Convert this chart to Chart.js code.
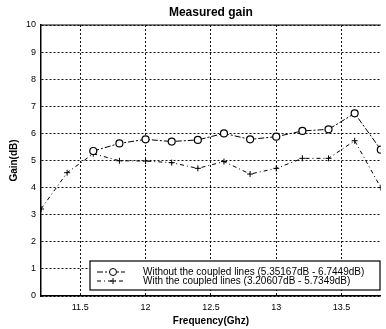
<!DOCTYPE html>
<html>
<head>
<meta charset="utf-8">
<script src="https://cdn.jsdelivr.net/npm/chart.js@4/dist/chart.umd.min.js"></script>
<style>
html, body { margin: 0; padding: 0; background: #fff; }
#wrap { width: 386px; height: 329px; }
</style>
</head>
<body>
<div id="wrap"><canvas id="gain"></canvas></div>
<script>
const FREQS = [11.2, 11.4, 11.6, 11.8, 12.0, 12.2, 12.4, 12.6, 12.8, 13.0, 13.2, 13.4, 13.6, 13.8];
const WITHOUT_GAIN = [null, null, 5.35, 5.63, 5.78, 5.70, 5.76, 6.00, 5.78, 5.88, 6.09, 6.15, 6.74, 5.40];
const WITH_GAIN = [3.21, 4.55, 5.25, 4.99, 4.98, 4.92, 4.71, 4.96, 4.50, 4.71, 5.08, 5.08, 5.73, 4.00];
const X_TICKS = [11.5, 12, 12.5, 13, 13.5];
const TITLE = "Measured gain";
const X_TITLE = "Frequency(Ghz)";
const Y_TITLE = "Gain(dB)";
const LABELS = [
    "Without the coupled lines (5.35167dB - 6.7449dB)",
    "With the coupled lines (3.20607dB - 5.7349dB)"
];

function toPoints(values) {
    return FREQS.map(function (f, i) {
        return { x: f, y: values[i] };
    });
}

// title over the plot box, plus the top edge of the box
const frame = {
    id: "frame",
    afterDraw(chart) {
        const ctx = chart.ctx;
        const a = chart.chartArea;
        ctx.save();
        ctx.strokeStyle = "#000";
        ctx.lineWidth = 1.2;
        ctx.beginPath();
        ctx.moveTo(a.left, a.top);
        ctx.lineTo(a.right, a.top);
        ctx.stroke();
        ctx.fillStyle = "#000";
        ctx.font = "bold 12px 'Liberation Sans', Arial, sans-serif";
        ctx.textAlign = "center";
        ctx.textBaseline = "middle";
        ctx.fillText(TITLE, (a.left + a.right) / 2, 13);
        ctx.restore();
    }
};

// boxed legend inside the plot, bottom right
const boxLegend = {
    id: "boxLegend",
    afterDraw(chart) {
        const ctx = chart.ctx;
        const a = chart.chartArea;
        const x = a.left + 49, y = a.bottom - 35, w = 290, h = 29;
        ctx.save();
        ctx.fillStyle = "#fff";
        ctx.fillRect(x, y, w, h);
        ctx.strokeStyle = "#000";
        ctx.lineWidth = 1.2;
        ctx.strokeRect(x, y, w, h);
        chart.data.datasets.forEach(function (ds, i) {
            const ry = y + 11 + i * 9;
            ctx.strokeStyle = "#000";
            ctx.lineWidth = 1;
            ctx.setLineDash(ds.borderDash);
            ctx.beginPath();
            ctx.moveTo(x + 7, ry);
            ctx.lineTo(x + 35, ry);
            ctx.stroke();
            ctx.setLineDash([]);
            Chart.helpers.drawPoint(ctx, {
                pointStyle: ds.pointStyle,
                radius: ds.pointRadius,
                borderWidth: ds.pointBorderWidth,
                rotation: 0
            }, x + 23, ry);
            if (ds.pointStyle === "circle") {
                ctx.fillStyle = "#fff";
            }
            ctx.fillStyle = "#000";
            ctx.font = "10px 'Liberation Sans', Arial, sans-serif";
            ctx.textAlign = "left";
            ctx.textBaseline = "middle";
            ctx.fillText(LABELS[i], x + 53, ry);
        });
        ctx.restore();
    }
};

window.onload = function () {
    const ctx = document.getElementById("gain").getContext("2d");
    new Chart(ctx, {
        type: "line",
        data: {
            datasets: [{
                label: LABELS[0],
                data: toPoints(WITHOUT_GAIN),
                borderColor: "#000",
                borderWidth: 1,
                borderDash: [6, 2, 2, 2],
                pointStyle: "circle",
                pointRadius: 3.5,
                pointBorderWidth: 1.2,
                pointBackgroundColor: "#fff",
                pointBorderColor: "#000",
                fill: false,
                tension: 0,
                spanGaps: false
            },
            {
                label: LABELS[1],
                data: toPoints(WITH_GAIN),
                borderColor: "#000",
                borderWidth: 1,
                borderDash: [4, 3, 1, 3],
                pointStyle: "cross",
                pointRadius: 3,
                pointBorderWidth: 1,
                pointBorderColor: "#000",
                fill: false,
                tension: 0
            }]
        },
        options: {
            responsive: true,
            maintainAspectRatio: false,
            animation: false,
            layout: { padding: { top: 25, left: 0, right: 0, bottom: 0 } },
            plugins: {
                legend: { display: false },
                title: { display: false },
                tooltip: { enabled: false }
            },
            scales: {
                x: {
                    type: "linear",
                    min: 11.2,
                    max: 13.8,
                    afterBuildTicks: function (s) {
                        s.ticks = X_TICKS.map(function (v) { return { value: v }; });
                    },
                    afterFit: function (s) { s.height = 33; },
                    ticks: {
                        color: "#000",
                        padding: 6,
                        maxRotation: 0,
                        autoSkip: false,
                        font: { size: 9, family: "'Liberation Sans', Arial, sans-serif" },
                        callback: function (v) { return String(v); }
                    },
                    grid: { color: "#111", lineWidth: 1, drawTicks: false },
                    border: { display: true, color: "#000", width: 1.5, dash: [2, 2] },
                    title: {
                        display: true,
                        text: X_TITLE,
                        color: "#000",
                        padding: { top: 0, bottom: 2 },
                        font: { size: 10, weight: "bold", family: "'Liberation Sans', Arial, sans-serif" }
                    }
                },
                y: {
                    min: 0,
                    max: 10,
                    afterFit: function (s) { s.width = 41; },
                    ticks: {
                        stepSize: 1,
                        color: "#000",
                        padding: 5,
                        font: { size: 9, family: "'Liberation Sans', Arial, sans-serif" }
                    },
                    grid: { color: "#111", lineWidth: 1, drawTicks: false },
                    border: { display: true, color: "#000", width: 1.5, dash: [2, 2] },
                    title: {
                        display: true,
                        text: Y_TITLE,
                        color: "#000",
                        padding: { top: 8, bottom: 0 },
                        font: { size: 10, weight: "bold", family: "'Liberation Sans', Arial, sans-serif" }
                    }
                }
            }
        },
        plugins: [frame, boxLegend]
    });
};
</script>
</body>
</html>
